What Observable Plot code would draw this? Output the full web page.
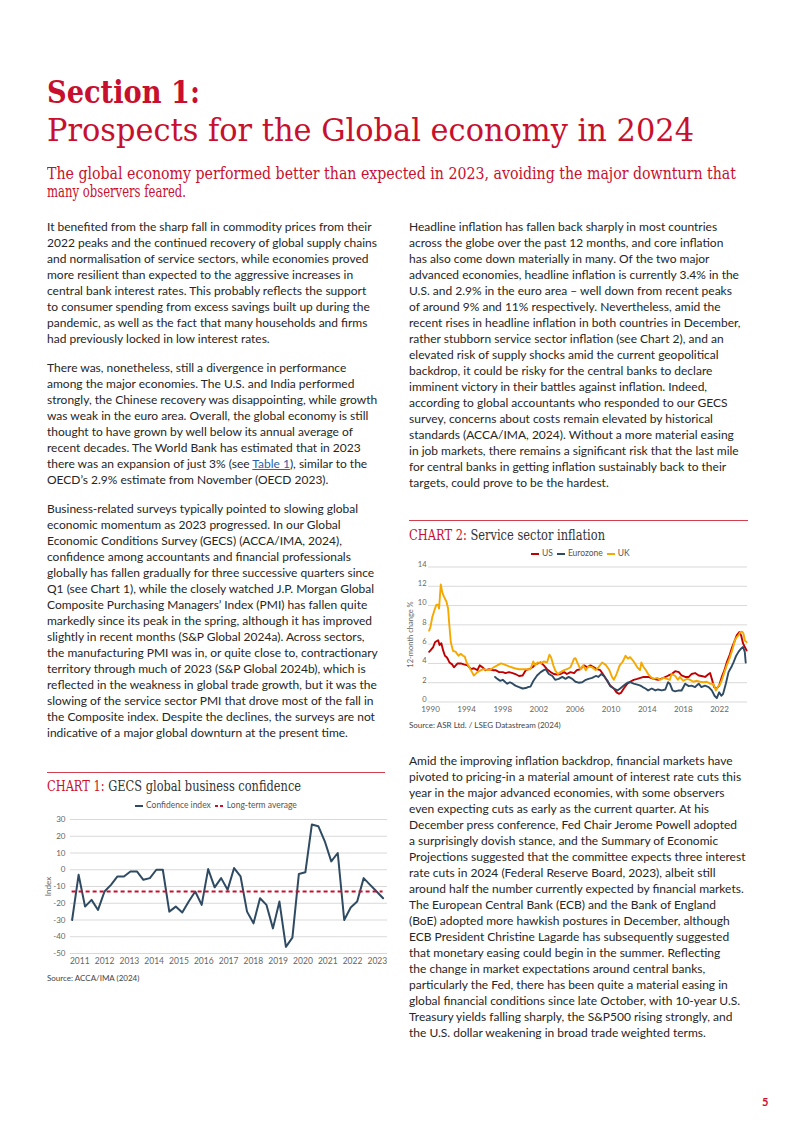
<!DOCTYPE html>
<html>
<head>
<meta charset="utf-8">
<script src="https://cdn.jsdelivr.net/npm/d3@7"></script>
<script src="https://cdn.jsdelivr.net/npm/@observablehq/plot@0.6"></script>
<style>
  html, body { margin: 0; padding: 0; background: #fff; }
  body { width: 802px; height: 1133px; position: relative; overflow: hidden; font-family: "Lato", sans-serif; color: #222; }
  .abs { position: absolute; white-space: nowrap; }
  .fit { display: inline-block; transform-origin: 0 50%; white-space: nowrap; }
  .serif { font-family: "DejaVu Serif", serif; }
  .red { color: #c8102e; }
  .body { font-size: 12px; line-height: 16px; color: #262626; }
  .link { color: #2a62a8; text-decoration: underline; }
  .rule { position: absolute; height: 1px; background: #d2404f; }
  .ctitle { font-size: 14px; line-height: 18px; color: #333; }
  .legend { font-size: 8.5px; color: #555; display: flex; align-items: center; gap: 4px; }
  .sw { display: inline-block; width: 8px; height: 2px; margin-right: 3px; vertical-align: middle; }
  .source { font-size: 8px; color: #444; }
</style>
</head>
<body>
<script>
// ---------- Chart 1 data: GECS global business confidence (survey waves, one per quarter) ----------
const confidence = [-30, -3, -22, -18, -24, -13, -9, -4, -4, -1, -1, -6, -5, 0, 0, -25, -22, -25.5, -19, -13, -21, 0.4, -10.5, -5, -12,
  1, -4, -25, -32, -17, -21, -35, -19, -46, -40.5, -2.5, -1.5, 27, 26, 17, 5, 10, -30, -22.5, -19, -5, -9, -13, -17];
const confStart = 2010.69;   // first survey wave (decimal year on the axis)
const confStep = 0.2613;     // spacing between survey waves
const longTermAverage = -13;
const confYears = [2011, 2012, 2013, 2014, 2015, 2016, 2017, 2018, 2019, 2020, 2021, 2022, 2023];
const confTicks = [30, 20, 10, 0, -10, -20, -30, -40, -50];

// ---------- Chart 2 data: service sector inflation, 12-month change % ----------
const usSeries = [[1989.85,5.2],[1990.0,5.35],[1990.3,5.7],[1990.5,6.2],[1990.66,6.3],[1990.85,6.4],[1991.0,5.9],[1991.2,6.1],[1991.4,5.35],[1991.6,4.8],[1991.8,4.65],[1991.95,4.4],[1992.1,4.1],[1992.4,3.9],[1992.6,3.6],[1993.0,4.0],[1993.35,4.0],[1993.7,3.9],[1994.1,3.8],[1994.5,3.4],[1994.8,3.5],[1995.2,3.3],[1995.45,3.8],[1995.75,3.6],[1996.1,3.3],[1996.5,3.4],[1996.9,3.3],[1997.2,3.3],[1997.6,3.1],[1998.0,3.1],[1998.3,3.0],[1998.7,3.1],[1999.1,3.0],[1999.4,2.9],[1999.8,2.7],[2000.2,2.75],[2000.55,3.3],[2000.9,3.4],[2001.3,3.6],[2001.6,3.9],[2001.9,4.0],[2002.2,4.1],[2002.55,3.8],[2002.9,3.4],[2003.3,3.1],[2003.65,2.9],[2004.0,2.85],[2004.4,2.9],[2004.8,3.1],[2005.1,2.9],[2005.5,3.1],[2005.9,3.0],[2006.2,3.3],[2006.6,3.4],[2007.0,3.8],[2007.35,3.6],[2007.7,3.8],[2008.1,3.6],[2008.45,3.4],[2008.8,3.3],[2009.2,2.75],[2009.55,2.2],[2009.9,1.7],[2010.3,1.4],[2010.6,1.0],[2010.85,0.85],[2011.1,0.95],[2011.4,1.4],[2011.8,1.9],[2012.1,2.1],[2012.5,2.3],[2012.9,2.4],[2013.25,2.5],[2013.6,2.6],[2014.1,2.6],[2014.7,2.4],[2015.2,2.3],[2015.8,2.5],[2016.35,2.75],[2016.7,2.9],[2017.1,3.2],[2017.5,3.1],[2017.8,2.75],[2018.2,2.6],[2018.6,2.6],[2018.9,2.9],[2019.3,3.0],[2019.7,2.75],[2020.0,2.7],[2020.4,2.6],[2020.8,2.9],[2020.96,3.0],[2021.15,2.4],[2021.4,1.55],[2021.7,1.4],[2021.96,1.7],[2022.25,2.6],[2022.55,3.3],[2022.8,4.1],[2023.1,4.8],[2023.4,5.7],[2023.7,6.4],[2023.9,6.9],[2024.2,7.25],[2024.4,6.9],[2024.6,6.1],[2024.8,5.7],[2025.0,5.35]];
const eurozoneSeries = [[1997.15,2.6],[1997.4,2.4],[1997.7,2.2],[1998.0,2.3],[1998.3,2.05],[1998.5,1.9],[1998.8,2.05],[1999.1,1.9],[1999.4,1.7],[1999.8,1.55],[2000.2,1.4],[2000.55,1.45],[2000.8,1.55],[2001.07,1.6],[2001.4,2.2],[2001.8,2.75],[2002.2,3.1],[2002.55,3.3],[2002.75,3.4],[2003.1,2.9],[2003.5,2.7],[2003.8,2.3],[2004.2,2.4],[2004.6,2.6],[2004.95,2.4],[2005.3,2.6],[2005.7,2.4],[2006.05,2.1],[2006.4,2.0],[2006.8,2.05],[2007.2,2.3],[2007.5,2.4],[2007.9,2.5],[2008.3,2.7],[2008.6,2.6],[2008.9,2.9],[2009.2,2.7],[2009.6,2.2],[2009.9,1.65],[2010.3,1.4],[2010.7,1.2],[2011.0,1.4],[2011.4,1.7],[2011.8,2.0],[2012.1,2.05],[2012.5,1.9],[2012.9,1.8],[2013.25,1.7],[2013.5,1.55],[2013.8,1.4],[2014.1,1.2],[2014.5,1.4],[2014.9,1.2],[2015.2,1.3],[2015.6,1.2],[2016.0,1.3],[2016.3,2.05],[2016.5,1.9],[2016.8,1.2],[2017.1,1.1],[2017.5,1.2],[2017.8,1.2],[2018.2,1.9],[2018.6,1.65],[2018.9,1.7],[2019.3,1.55],[2019.7,1.9],[2020.0,1.55],[2020.4,1.7],[2020.8,1.55],[2021.15,1.2],[2021.45,0.65],[2021.7,0.4],[2021.96,1.0],[2022.2,0.65],[2022.4,0.85],[2022.7,1.9],[2023.0,3.1],[2023.3,3.6],[2023.55,4.1],[2023.85,4.8],[2024.1,5.2],[2024.35,5.5],[2024.6,5.7],[2024.8,5.2],[2024.9,4.1]];
const ukSeries = [[1989.85,7.4],[1990.0,7.8],[1990.2,8.8],[1990.5,9.7],[1990.66,10.1],[1990.84,10.1],[1990.95,9.7],[1991.14,12.2],[1991.3,11.4],[1991.5,10.9],[1991.77,10.4],[1991.95,9.7],[1992.06,8.3],[1992.25,6.2],[1992.5,5.3],[1992.8,5.2],[1993.1,4.8],[1993.35,5.0],[1993.6,4.8],[1993.8,4.7],[1994.0,4.1],[1994.3,3.6],[1994.6,3.1],[1994.8,2.75],[1995.2,3.1],[1995.6,3.3],[1995.9,3.4],[1996.3,3.3],[1996.7,3.4],[1997.0,3.6],[1997.4,3.8],[1997.8,4.0],[1998.15,3.9],[1998.7,3.7],[1999.3,3.5],[1999.8,3.4],[2000.4,3.4],[2000.9,3.4],[2001.07,3.4],[2001.37,4.2],[2001.6,3.8],[2001.85,4.1],[2002.2,4.0],[2002.55,4.2],[2002.9,4.1],[2003.17,4.9],[2003.35,4.65],[2003.6,3.8],[2003.8,3.3],[2004.1,2.9],[2004.4,3.1],[2004.8,3.3],[2005.1,3.4],[2005.5,3.6],[2005.9,4.5],[2006.05,4.55],[2006.3,4.0],[2006.6,3.4],[2006.9,3.8],[2007.2,3.3],[2007.5,3.7],[2007.9,3.6],[2008.3,3.3],[2008.6,3.6],[2009.0,4.1],[2009.4,3.85],[2009.75,3.4],[2010.1,2.6],[2010.3,2.3],[2010.6,2.9],[2010.95,3.8],[2011.3,4.2],[2011.6,4.8],[2011.85,4.5],[2012.1,4.65],[2012.5,4.2],[2012.9,3.6],[2013.2,3.3],[2013.35,4.1],[2013.6,3.6],[2013.85,3.3],[2014.1,2.9],[2014.4,2.6],[2014.7,2.4],[2015.1,2.5],[2015.4,2.3],[2015.8,2.5],[2016.2,2.4],[2016.5,2.3],[2016.7,2.9],[2017.1,2.7],[2017.4,2.3],[2017.6,2.6],[2018.0,2.2],[2018.4,2.4],[2018.75,2.3],[2019.1,2.1],[2019.5,2.2],[2019.85,2.1],[2020.2,2.05],[2020.6,2.1],[2020.96,1.9],[2021.3,1.9],[2021.6,1.2],[2021.8,1.55],[2022.1,1.9],[2022.3,2.4],[2022.55,3.1],[2022.8,3.8],[2023.1,4.5],[2023.4,5.35],[2023.7,6.4],[2023.9,6.7],[2024.1,6.9],[2024.3,7.25],[2024.5,7.3],[2024.65,7.1],[2024.8,6.4],[2025.0,6.2]];
const inflationSeriesNames = ["US", "Eurozone", "UK"];
const inflationYears = [1990, 1994, 1998, 2002, 2006, 2010, 2014, 2018, 2022];
const inflationTicks = [0, 2, 4, 6, 8, 10, 12, 14];
</script>

<!-- Headings -->
<div class="abs serif red" style="left:47px; top:73px; font-size:32px; line-height:38px; font-weight:bold;"><span class="fit" data-w="153">Section 1:</span></div>
<div class="abs serif red" style="left:47px; top:111px; font-size:32px; line-height:38px;"><span class="fit" data-w="647">Prospects for the Global economy in 2024</span></div>
<div class="abs serif red" style="left:47px; top:165px; font-size:16.5px; line-height:18px;">
  <span class="fit" data-w="689">The global economy performed better than expected in 2023, avoiding the major downturn that</span><br>
  <span class="fit" data-w="139">many observers feared.</span>
</div>

<!-- Left column text -->
<div class="abs body" style="left:47px; top:219px;"><span id="calib">It benefited from the sharp fall in commodity prices from their</span><br>2022 peaks and the continued recovery of global supply chains<br>and normalisation of service sectors, while economies proved<br>more resilient than expected to the aggressive increases in<br>central bank interest rates. This probably reflects the support<br>to consumer spending from excess savings built up during the<br>pandemic, as well as the fact that many households and firms<br>had previously locked in low interest rates.</div>
<div class="abs body" style="left:47px; top:360px;">There was, nonetheless, still a divergence in performance<br>among the major economies. The U.S. and India performed<br>strongly, the Chinese recovery was disappointing, while growth<br>was weak in the euro area. Overall, the global economy is still<br>thought to have grown by well below its annual average of<br>recent decades. The World Bank has estimated that in 2023<br>there was an expansion of just 3% (see <span class="link">Table 1</span>), similar to the<br>OECD’s 2.9% estimate from November (OECD 2023).</div>
<div class="abs body" style="left:47px; top:501px;">Business-related surveys typically pointed to slowing global<br>economic momentum as 2023 progressed. In our Global<br>Economic Conditions Survey (GECS) (ACCA/IMA, 2024),<br>confidence among accountants and financial professionals<br>globally has fallen gradually for three successive quarters since<br>Q1 (see Chart 1), while the closely watched J.P. Morgan Global<br>Composite Purchasing Managers’ Index (PMI) has fallen quite<br>markedly since its peak in the spring, although it has improved<br>slightly in recent months (S&amp;P Global 2024a). Across sectors,<br>the manufacturing PMI was in, or quite close to, contractionary<br>territory through much of 2023 (S&amp;P Global 2024b), which is<br>reflected in the weakness in global trade growth, but it was the<br>slowing of the service sector PMI that drove most of the fall in<br>the Composite index. Despite the declines, the surveys are not<br>indicative of a major global downturn at the present time.</div>

<!-- Right column text -->
<div class="abs body" style="left:409px; top:219px;">Headline inflation has fallen back sharply in most countries<br>across the globe over the past 12 months, and core inflation<br>has also come down materially in many. Of the two major<br>advanced economies, headline inflation is currently 3.4% in the<br>U.S. and 2.9% in the euro area – well down from recent peaks<br>of around 9% and 11% respectively. Nevertheless, amid the<br>recent rises in headline inflation in both countries in December,<br>rather stubborn service sector inflation (see Chart 2), and an<br>elevated risk of supply shocks amid the current geopolitical<br>backdrop, it could be risky for the central banks to declare<br>imminent victory in their battles against inflation. Indeed,<br>according to global accountants who responded to our GECS<br>survey, concerns about costs remain elevated by historical<br>standards (ACCA/IMA, 2024). Without a more material easing<br>in job markets, there remains a significant risk that the last mile<br>for central banks in getting inflation sustainably back to their<br>targets, could prove to be the hardest.</div>
<div class="abs body" style="left:409px; top:753px;">Amid the improving inflation backdrop, financial markets have<br>pivoted to pricing-in a material amount of interest rate cuts this<br>year in the major advanced economies, with some observers<br>even expecting cuts as early as the current quarter. At his<br>December press conference, Fed Chair Jerome Powell adopted<br>a surprisingly dovish stance, and the Summary of Economic<br>Projections suggested that the committee expects three interest<br>rate cuts in 2024 (Federal Reserve Board, 2023), albeit still<br>around half the number currently expected by financial markets.<br>The European Central Bank (ECB) and the Bank of England<br>(BoE) adopted more hawkish postures in December, although<br>ECB President Christine Lagarde has subsequently suggested<br>that monetary easing could begin in the summer. Reflecting<br>the change in market expectations around central banks,<br>particularly the Fed, there has been quite a material easing in<br>global financial conditions since late October, with 10-year U.S.<br>Treasury yields falling sharply, the S&amp;P500 rising strongly, and<br>the U.S. dollar weakening in broad trade weighted terms.</div>

<!-- Chart 2 block -->
<div class="rule" style="left:409px; top:520px; width:339px;"></div>
<div class="abs serif ctitle" style="left:409px; top:526px;"><span class="fit" data-w="196"><span class="red">CHART 2:</span> Service sector inflation</span></div>
<div class="abs legend" style="left:531px; top:548px;">
  <span><span class="sw" style="background:#c00000"></span>US</span>
  <span><span class="sw" style="background:#2f4b63"></span>Eurozone</span>
  <span><span class="sw" style="background:#f5a800"></span>UK</span>
</div>
<div id="chart2" class="abs" style="left:400px; top:555px;"></div>
<div class="abs source" style="left:409px; top:720px;">Source: ASR Ltd. / LSEG Datastream (2024)</div>

<!-- Chart 1 block -->
<div class="rule" style="left:47px; top:772px; width:338px;"></div>
<div class="abs serif ctitle" style="left:47px; top:777px;"><span class="fit" data-w="254"><span class="red">CHART 1:</span> GECS global business confidence</span></div>
<div class="abs legend" style="left:135px; top:800px;">
  <span><span class="sw" style="background:#2f4b63"></span>Confidence index</span>
  <span><span class="sw" style="background:repeating-linear-gradient(90deg,#c8102e 0 3px,transparent 3px 5px);width:9px"></span>Long-term average</span>
</div>
<div id="chart1" class="abs" style="left:40px; top:812px;"></div>
<div class="abs source" style="left:47px; top:973px;">Source: ACCA/IMA (2024)</div>

<div class="abs red" style="left:762px; top:1095px; font-size:11px; font-weight:bold;">5</div>

<script>
// ----- Chart 1 -----
const confData = confidence.map((v, i) => ({t: confStart + i * confStep, v}));
const first = confData[0].t, last = confData[confData.length - 1].t;
const chart1 = Plot.plot({
  width: 350, height: 162,
  marginTop: 7, marginBottom: 21, marginLeft: 30, marginRight: 3,
  style: {fontFamily: "Lato, sans-serif", fontSize: "8.5px", color: "#666", background: "transparent", overflow: "visible"},
  x: {domain: [2010.625, 2023.41]},
  y: {domain: [-50, 30]},
  marks: [
    Plot.gridY(confTicks, {stroke: "#d9d9d9", strokeOpacity: 1}),
    Plot.axisX(confYears, {tickSize: 0, tickPadding: 4, tickFormat: d => String(d), label: null}),
    Plot.axisY(confTicks, {tickSize: 0, tickPadding: 5, tickFormat: d => String(d), label: "Index", labelAnchor: "center", labelArrow: "none", labelOffset: 25, fontSize: 8}),
    Plot.line(confData, {x: "t", y: "v", stroke: "#2f4b63", strokeWidth: 2}),
    Plot.ruleY([longTermAverage], {x1: first, x2: last, stroke: "#c8102e", strokeWidth: 2, strokeDasharray: "4,3"})
  ]
});
document.getElementById("chart1").append(chart1);

// ----- Chart 2 -----
const inflation = [
  ...usSeries.map(([t, v]) => ({series: "US", t, v})),
  ...eurozoneSeries.map(([t, v]) => ({series: "Eurozone", t, v})),
  ...ukSeries.map(([t, v]) => ({series: "UK", t, v}))
];
const chart2 = Plot.plot({
  width: 352, height: 164,
  marginTop: 11.5, marginBottom: 17.5, marginLeft: 28, marginRight: 5,
  style: {fontFamily: "Lato, sans-serif", fontSize: "8px", color: "#666", background: "transparent", overflow: "visible"},
  x: {domain: [1989.78, 2025.1]},
  y: {domain: [0, 14]},
  color: {domain: inflationSeriesNames, range: ["#c00000", "#2f4b63", "#f5a800"]},
  marks: [
    Plot.gridY(inflationTicks, {stroke: "#d9d9d9", strokeOpacity: 1}),
    Plot.axisX(inflationYears, {tickSize: 0, tickPadding: 4, tickFormat: d => String(d), label: null}),
    Plot.axisY(inflationTicks, {tickSize: 0, tickPadding: 2, dy: -2.5, tickFormat: d => String(d), label: "12-month change %", labelAnchor: "center", labelArrow: "none", labelOffset: 21, fontSize: 7.5}),
    Plot.line(inflation, {x: "t", y: "v", z: "series", stroke: "series", strokeWidth: 1.9})
  ]
});
document.getElementById("chart2").append(chart2);

// ----- fit text widths -----
function fit() {
  const calib = document.getElementById("calib");
  const w = calib.getBoundingClientRect().width;
  const fs = 12 * 329 / w;
  document.querySelectorAll(".body").forEach(el => el.style.fontSize = fs.toFixed(2) + "px");
  document.querySelectorAll(".fit[data-w]").forEach(el => {
    el.style.transform = "none";
    const ww = el.getBoundingClientRect().width;
    el.style.transform = `scaleX(${(+el.dataset.w / ww).toFixed(4)})`;
  });
}
fit();
if (document.fonts && document.fonts.ready) document.fonts.ready.then(fit);
</script>
</body>
</html>
